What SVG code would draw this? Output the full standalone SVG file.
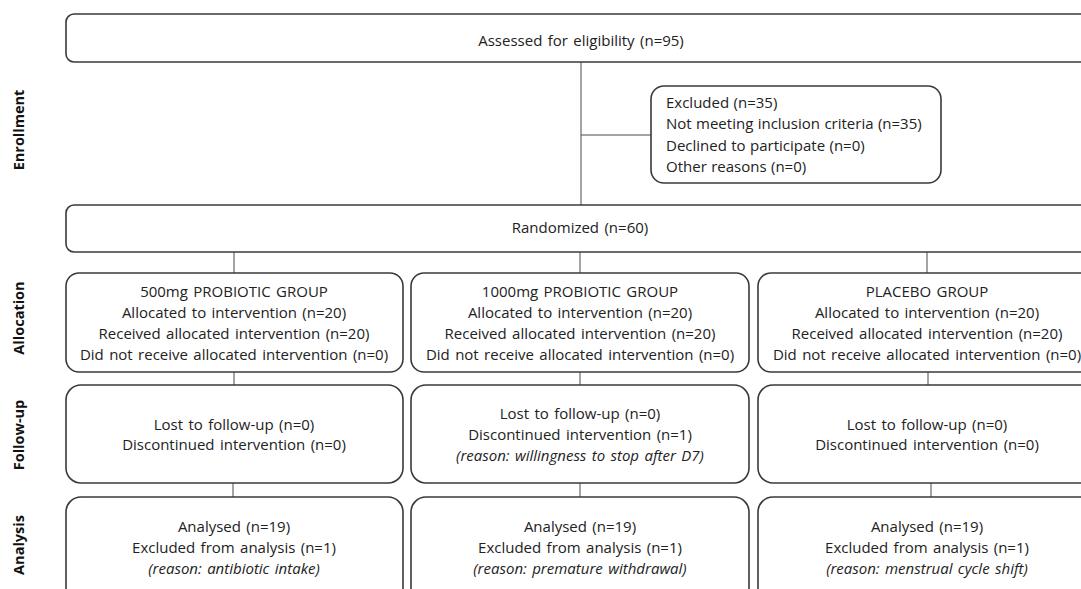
<svg xmlns="http://www.w3.org/2000/svg" width="1081" height="589" viewBox="0 0 1081 589">
<style>
.box{fill:#fff;stroke:#3a3a3a;stroke-width:1.6}
.ln{stroke:#4a4a4a;stroke-width:1;fill:none}
.t{font-family:"Open Sans","Liberation Sans",Arial,sans-serif;font-size:15px;fill:#222;text-anchor:middle;word-spacing:1.5px}
.tl{text-anchor:start;word-spacing:0.5px}
.i{font-style:italic}
.lab{font-family:"Open Sans","Liberation Sans",Arial,sans-serif;font-size:14.5px;font-weight:bold;fill:#111;text-anchor:middle}
</style>
<rect width="1081" height="589" fill="#fff"/>
<g id="stage-labels">
<text class="lab" transform="translate(24,130) rotate(-90)">Enrollment</text>
<text class="lab" transform="translate(24,318) rotate(-90)">Allocation</text>
<text class="lab" transform="translate(24,435) rotate(-90)">Follow-up</text>
<text class="lab" transform="translate(24,545) rotate(-90)">Analysis</text>
</g>
<g id="connectors">
<line class="ln" x1="581" y1="62" x2="581" y2="205"/>
<line class="ln" x1="581" y1="135" x2="651" y2="135"/>
<line class="ln" x1="234" y1="252" x2="234" y2="273"/>
<line class="ln" x1="580" y1="252" x2="580" y2="273"/>
<line class="ln" x1="927" y1="252" x2="927" y2="273"/>
<line class="ln" x1="234" y1="372" x2="234" y2="385"/>
<line class="ln" x1="580" y1="372" x2="580" y2="385"/>
<line class="ln" x1="928" y1="372" x2="928" y2="385"/>
<line class="ln" x1="233" y1="483" x2="233" y2="497"/>
<line class="ln" x1="580" y1="483" x2="580" y2="497"/>
<line class="ln" x1="931" y1="483" x2="931" y2="497"/>
</g>
<g id="assessed">
<rect class="box" x="66" y="14" width="1040" height="48" rx="8"/>
<text class="t" x="581" y="46">Assessed for eligibility (n=95)</text>
</g>
<g id="excluded">
<rect class="box" x="651" y="86" width="290" height="97" rx="13"/>
<text class="t tl" x="666" y="108">Excluded (n=35)</text>
<text class="t tl" x="666" y="129">Not meeting inclusion criteria (n=35)</text>
<text class="t tl" x="666" y="151">Declined to participate (n=0)</text>
<text class="t tl" x="666" y="172">Other reasons (n=0)</text>
</g>
<g id="randomized">
<rect class="box" x="66" y="205" width="1040" height="47" rx="8"/>
<text class="t" x="580" y="233">Randomized (n=60)</text>
</g>
<g id="alloc-500">
<rect class="box" x="66" y="273" width="337" height="99" rx="13"/>
<text class="t" x="234" y="297">500mg PROBIOTIC GROUP</text>
<text class="t" x="234" y="318">Allocated to intervention (n=20)</text>
<text class="t" x="234" y="339">Received allocated intervention (n=20)</text>
<text class="t" x="234" y="360">Did not receive allocated intervention (n=0)</text>
</g>
<g id="alloc-1000">
<rect class="box" x="411" y="273" width="338" height="99" rx="13"/>
<text class="t" x="580" y="297">1000mg PROBIOTIC GROUP</text>
<text class="t" x="580" y="318">Allocated to intervention (n=20)</text>
<text class="t" x="580" y="339">Received allocated intervention (n=20)</text>
<text class="t" x="580" y="360">Did not receive allocated intervention (n=0)</text>
</g>
<g id="alloc-placebo">
<rect class="box" x="758" y="273" width="338" height="99" rx="13"/>
<text class="t" x="927" y="297">PLACEBO GROUP</text>
<text class="t" x="927" y="318">Allocated to intervention (n=20)</text>
<text class="t" x="927" y="339">Received allocated intervention (n=20)</text>
<text class="t" x="927" y="360">Did not receive allocated intervention (n=0)</text>
</g>
<g id="follow-500">
<rect class="box" x="66" y="385" width="337" height="98" rx="15"/>
<text class="t" x="234" y="430">Lost to follow-up (n=0)</text>
<text class="t" x="234" y="450">Discontinued intervention (n=0)</text>
</g>
<g id="follow-1000">
<rect class="box" x="411" y="385" width="338" height="98" rx="15"/>
<text class="t" x="580" y="419">Lost to follow-up (n=0)</text>
<text class="t" x="580" y="440">Discontinued intervention (n=1)</text>
<text class="t i" x="580" y="461">(reason: willingness to stop after D7)</text>
</g>
<g id="follow-placebo">
<rect class="box" x="758" y="385" width="338" height="98" rx="15"/>
<text class="t" x="927" y="430">Lost to follow-up (n=0)</text>
<text class="t" x="927" y="450">Discontinued intervention (n=0)</text>
</g>
<g id="analysis-500">
<rect class="box" x="66" y="497" width="337" height="110" rx="15"/>
<text class="t" x="234" y="532">Analysed (n=19)</text>
<text class="t" x="234" y="553">Excluded from analysis (n=1)</text>
<text class="t i" x="234" y="574">(reason: antibiotic intake)</text>
</g>
<g id="analysis-1000">
<rect class="box" x="411" y="497" width="338" height="110" rx="15"/>
<text class="t" x="580" y="532">Analysed (n=19)</text>
<text class="t" x="580" y="553">Excluded from analysis (n=1)</text>
<text class="t i" x="580" y="574">(reason: premature withdrawal)</text>
</g>
<g id="analysis-placebo">
<rect class="box" x="758" y="497" width="338" height="110" rx="15"/>
<text class="t" x="927" y="532">Analysed (n=19)</text>
<text class="t" x="927" y="553">Excluded from analysis (n=1)</text>
<text class="t i" x="927" y="574">(reason: menstrual cycle shift)</text>
</g>
</svg>
